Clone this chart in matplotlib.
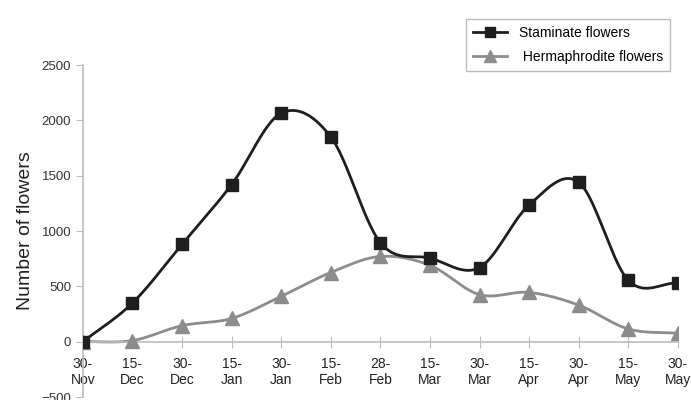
import numpy as np
import matplotlib
matplotlib.use("Agg")
from matplotlib import pyplot as plt

plt.rcParams['font.family'] = ['Liberation Sans', 'DejaVu Sans']

dates = ["30-\nNov", "15-\nDec", "30-\nDec", "15-\nJan", "30-\nJan", "15-\nFeb", "28-\nFeb",
         "15-\nMar", "30-\nMar", "15-\nApr", "30-\nApr", "15-\nMay", "30-\nMay"]
staminate = [0, 350, 880, 1420, 2065, 1850, 895, 755, 670, 1235, 1440, 555, 530]
hermaphrodite = [0, 10, 145, 210, 410, 625, 770, 690, 425, 445, 330, 115, 75]


def smooth(y, n=30):
    # catmull-rom style smoothing, like the spreadsheet "smoothed line"
    y = np.asarray(y, float)
    x = np.arange(len(y), dtype=float)
    px = np.concatenate([[2 * x[0] - x[1]], x, [2 * x[-1] - x[-2]]])
    py = np.concatenate([[2 * y[0] - y[1]], y, [2 * y[-1] - y[-2]]])
    xs, ys = [], []
    for i in range(1, len(px) - 2):
        t = np.linspace(0, 1, n)
        for arr, out in ((px, xs), (py, ys)):
            p0, p1, p2, p3 = arr[i - 1], arr[i], arr[i + 1], arr[i + 2]
            m1 = (p2 - p0) / 2
            m2 = (p3 - p1) / 2
            h00 = 2 * t**3 - 3 * t**2 + 1
            h10 = t**3 - 2 * t**2 + t
            h01 = -2 * t**3 + 3 * t**2
            h11 = t**3 - t**2
            out.extend(h00 * p1 + h10 * m1 + h01 * p2 + h11 * m2)
    return np.array(xs), np.array(ys)


fig = plt.figure(figsize=(6.91, 4.0), dpi=100)
ax = fig.add_axes([0.120, 0.0075, 0.861, 0.83])

x = np.arange(len(dates))
sx, sy = smooth(staminate)
hx, hy = smooth(hermaphrodite)

ax.plot(hx, hy, color='#8c8c8c', lw=2, zorder=2)
ax.plot(x, hermaphrodite, ls='none', marker='^', ms=10, color='#8c8c8c', zorder=3)
ax.plot(sx, sy, color='#1e1e1e', lw=2, zorder=4)
ax.plot(x, staminate, ls='none', marker='s', ms=9, color='#1e1e1e', zorder=5)

# legend proxies
ax.plot([], [], color='#1e1e1e', lw=2, marker='s', ms=7, label='Staminate flowers')
ax.plot([], [], color='#8c8c8c', lw=2, marker='^', ms=8, label=' Hermaphrodite flowers')

ax.set_xlim(0, 12)
ax.set_ylim(-500, 2500)
ax.set_yticks([-500, 0, 500, 1000, 1500, 2000, 2500])
ax.set_xticks(x)
ax.set_xticklabels(dates, fontsize=10.5, color='#222222', linespacing=1.8)

for s in ['top', 'right']:
    ax.spines[s].set_visible(False)
ax.spines['bottom'].set_position(('data', 0))
ax.spines['left'].set_color('#bbbbbb')
ax.spines['bottom'].set_color('#bbbbbb')
ax.spines['left'].set_linewidth(1.2)
ax.spines['bottom'].set_linewidth(1.2)
ax.tick_params(axis='y', colors='#bbbbbb', labelcolor='#333333', labelsize=9.5, length=5)
ax.tick_params(axis='x', colors='#bbbbbb', labelcolor='#222222', direction='inout', length=8, pad=7)

ax.set_ylabel('Number of flowers', fontsize=14, color='#222222', labelpad=5)

leg = fig.legend(loc='upper left', bbox_to_anchor=(0.664, 0.97), fontsize=10,
                 frameon=True, fancybox=False, handlelength=2.5, borderpad=0.5,
                 labelspacing=0.7)
leg.get_frame().set_edgecolor('#aaaaaa')
leg.get_frame().set_linewidth(1)

fig.savefig('out.png', dpi=100)
